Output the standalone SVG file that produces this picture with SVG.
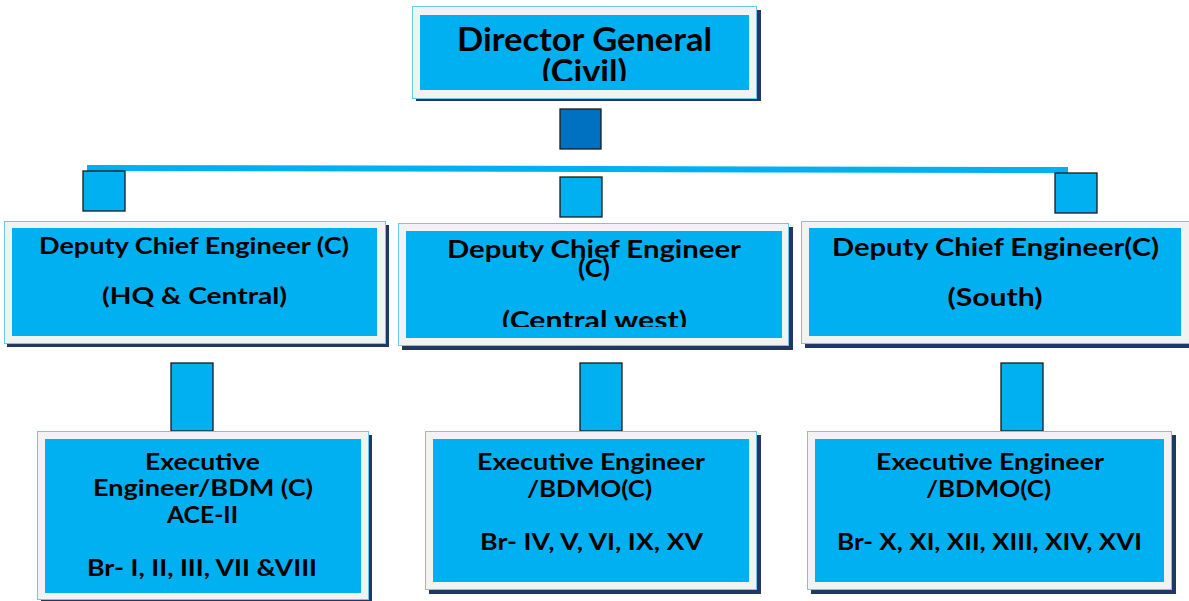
<svg xmlns="http://www.w3.org/2000/svg" width="1189" height="601" viewBox="0 0 1189 601">
<style>
.frame{fill:#f2f2f2;stroke:#6cc8ee;stroke-width:1}
.shadow{fill:#1f3864}
.inner{fill:#00b0f0}
.conn{fill:#00b0f0;stroke:#1a1a1a;stroke-width:1.3}
.t{font-family:Lato,"Open Sans","Liberation Sans",sans-serif;font-weight:bold;fill:#000;text-anchor:middle}
</style>
<defs>
<clipPath id="clipTop"><rect x="420" y="15" width="329" height="66"/></clipPath>
<clipPath id="clipMid"><rect x="406" y="231" width="376" height="96"/></clipPath>
</defs>
<rect width="1189" height="601" fill="#fff"/>

<g id="connectors">
<polygon points="87,165 1068,167 1068,173 87,171" fill="#00b0f0"/>
<rect x="560" y="109" width="41" height="40" fill="#0070c0" stroke="#1a1a1a" stroke-width="1.3"/>
<rect class="conn" x="83" y="171" width="42" height="40"/>
<rect class="conn" x="560" y="177" width="42" height="40"/>
<rect class="conn" x="1055" y="173" width="42" height="40"/>
<rect class="conn" x="171" y="363" width="42" height="68"/>
<rect class="conn" x="580" y="363" width="42" height="68"/>
<rect class="conn" x="1001" y="363" width="42" height="68"/>
</g>

<g id="director-general">
<rect class="shadow" x="416" y="10" width="345" height="91"/>
<rect class="frame" x="412.5" y="6.5" width="344" height="92"/>
<rect class="inner" x="420" y="15" width="329" height="75"/>
<g clip-path="url(#clipTop)">
<text class="t" x="584.5" y="51" font-size="32" textLength="255" lengthAdjust="spacingAndGlyphs">Director General</text>
<text class="t" x="584.5" y="83" font-size="32" textLength="85" lengthAdjust="spacingAndGlyphs">(Civil)</text>
</g>
</g>

<g id="dce-hq-central">
<rect class="shadow" x="7" y="225" width="382" height="122"/>
<rect class="frame" x="4.5" y="221.5" width="381" height="122"/>
<rect class="inner" x="12" y="228" width="365" height="108"/>
<text class="t" x="194" y="254" font-size="23.5" textLength="310" lengthAdjust="spacingAndGlyphs">Deputy Chief Engineer (C)</text>
<text class="t" x="194.5" y="304" font-size="23.5" textLength="185" lengthAdjust="spacingAndGlyphs">(HQ &amp; Central)</text>
</g>

<g id="dce-central-west">
<rect class="shadow" x="402" y="227" width="391" height="123"/>
<rect class="frame" x="398.5" y="223.5" width="390" height="122"/>
<rect class="inner" x="406" y="231" width="376" height="107"/>
<g clip-path="url(#clipMid)">
<text class="t" x="594" y="258" font-size="25.5" textLength="294" lengthAdjust="spacingAndGlyphs">Deputy Chief Engineer</text>
<text class="t" x="594" y="277" font-size="25.5" textLength="32" lengthAdjust="spacingAndGlyphs">(C)</text>
<text class="t" x="594.5" y="329" font-size="25.5" textLength="185" lengthAdjust="spacingAndGlyphs">(Central west)</text>
</g>
</g>

<g id="dce-south">
<rect class="shadow" x="805" y="225" width="390" height="123"/>
<rect class="frame" x="801.5" y="221.5" width="392" height="122"/>
<rect class="inner" x="809" y="228" width="372" height="108"/>
<text class="t" x="995.5" y="256" font-size="25" textLength="327" lengthAdjust="spacingAndGlyphs">Deputy Chief Engineer(C)</text>
<text class="t" x="995" y="306" font-size="25" textLength="95" lengthAdjust="spacingAndGlyphs">(South)</text>
</g>

<g id="ee-ace-ii">
<rect class="shadow" x="41" y="435" width="331" height="170"/>
<rect class="frame" x="37.5" y="431.5" width="331" height="168"/>
<rect class="inner" x="45" y="439" width="316" height="154"/>
<text class="t" x="202.5" y="470" font-size="23" textLength="115" lengthAdjust="spacingAndGlyphs">Executive</text>
<text class="t" x="203" y="496" font-size="23" textLength="220" lengthAdjust="spacingAndGlyphs">Engineer/BDM (C)</text>
<text class="t" x="202.5" y="523" font-size="23" textLength="71" lengthAdjust="spacingAndGlyphs">ACE-II</text>
<text class="t" x="202" y="576" font-size="23" textLength="230" lengthAdjust="spacingAndGlyphs">Br- I, II, III, VII &amp;VIII</text>
</g>

<g id="ee-bdmo-central">
<rect class="shadow" x="429" y="435" width="332" height="159"/>
<rect class="frame" x="425.5" y="431.5" width="331" height="158"/>
<rect class="inner" x="433" y="439" width="316" height="143"/>
<text class="t" x="591" y="470" font-size="23" textLength="228" lengthAdjust="spacingAndGlyphs">Executive Engineer</text>
<text class="t" x="589.5" y="497" font-size="23" textLength="125" lengthAdjust="spacingAndGlyphs">/BDMO(C)</text>
<text class="t" x="591.5" y="550" font-size="23" textLength="223" lengthAdjust="spacingAndGlyphs">Br- IV, V, VI, IX, XV</text>
</g>

<g id="ee-bdmo-south">
<rect class="shadow" x="811" y="435" width="365" height="159"/>
<rect class="frame" x="807.5" y="431.5" width="364" height="158"/>
<rect class="inner" x="815" y="439" width="349" height="143"/>
<text class="t" x="990" y="470" font-size="23" textLength="228" lengthAdjust="spacingAndGlyphs">Executive Engineer</text>
<text class="t" x="988.5" y="497" font-size="23" textLength="125" lengthAdjust="spacingAndGlyphs">/BDMO(C)</text>
<text class="t" x="989.5" y="550" font-size="23" textLength="305" lengthAdjust="spacingAndGlyphs">Br- X, XI, XII, XIII, XIV, XVI</text>
</g>
</svg>
